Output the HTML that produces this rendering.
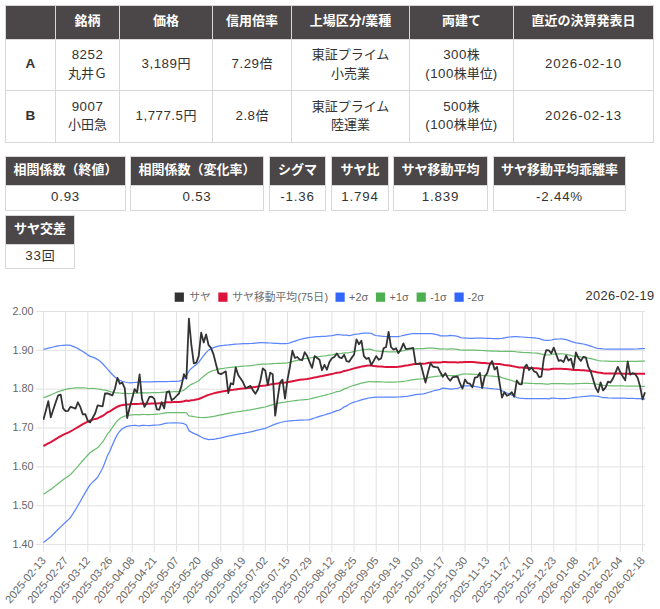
<!DOCTYPE html><html lang="ja"><head><meta charset="utf-8"><title>pair</title><style>
html,body{margin:0;padding:0;background:#fff;}
body{width:660px;height:609px;position:relative;overflow:hidden;font-family:"Liberation Sans","Noto Sans CJK JP",sans-serif;font-size:13px;color:#333;}
span.j{font-size:13px;letter-spacing:0}
table.t{position:absolute;left:5px;top:5px;border-collapse:collapse;table-layout:fixed;width:649px;}
table.t th,table.t td{border:1px solid #d8d8d8;padding:0 0 1px 0;text-align:center;vertical-align:middle;font-size:13.3px;line-height:18.5px;letter-spacing:.5px}
table.t th{background:#4b4748;color:#fff;height:31px;font-weight:bold;padding:0 0 2px 0;letter-spacing:0}
table.t td{color:#333}
table.t td.d{letter-spacing:.9px}
table.t td.k{font-weight:bold;font-size:13.5px}
.box{position:absolute;box-sizing:border-box;border:1px solid #d8d8d8;text-align:center;background:#fff}
.box .h{background:#4b4748;color:#fff;height:28px;line-height:26px;border-bottom:1px solid #d8d8d8;font-weight:bold;font-size:13px}
.box .v{height:24px;line-height:22px;font-size:13.3px;letter-spacing:.8px;color:#333}
#chart{position:absolute;left:0;top:280px}
#chart text{font-family:"Liberation Sans","Noto Sans CJK JP",sans-serif}
</style></head><body>
<table class="t"><colgroup><col style="width:50px"><col style="width:64px"><col style="width:93px"><col style="width:79px"><col style="width:118px"><col style="width:104px"><col style="width:140px"></colgroup>
<tr><th></th><th><span class="j">銘柄</span></th><th><span class="j">価格</span></th><th><span class="j">信用倍率</span></th><th><span class="j">上場区分/業種</span></th><th><span class="j">両建て</span></th><th><span class="j">直近の決算発表日</span></th></tr>
<tr style="height:50px"><td class="k" style="height:49px">A</td><td class="" style="height:49px">8252<br><span class="j">丸井Ｇ</span></td><td class="" style="height:49px">3,189<span class="j">円</span></td><td class="" style="height:49px">7.29<span class="j">倍</span></td><td class="" style="height:49px"><span class="j">東証プライム</span><br><span class="j">小売業</span></td><td class="" style="height:49px">300<span class="j">株</span><br>(100<span class="j">株単位</span>)</td><td class="d" style="height:49px">2026-02-10</td></tr>
<tr style="height:51px"><td class="k" style="height:50px">B</td><td class="" style="height:50px">9007<br><span class="j">小田急</span></td><td class="" style="height:50px">1,777.5<span class="j">円</span></td><td class="" style="height:50px">2.8<span class="j">倍</span></td><td class="" style="height:50px"><span class="j">東証プライム</span><br><span class="j">陸運業</span></td><td class="" style="height:50px">500<span class="j">株</span><br>(100<span class="j">株単位</span>)</td><td class="d" style="height:50px">2026-02-13</td></tr>
</table>
<div class="box" style="left:5px;top:156px;width:121px"><div class="h">相関係数（終値）</div><div class="v" style="height:24px">0.93</div></div>
<div class="box" style="left:130px;top:156px;width:134px"><div class="h">相関係数（変化率）</div><div class="v" style="height:24px">0.53</div></div>
<div class="box" style="left:269px;top:156px;width:57px"><div class="h">シグマ</div><div class="v" style="height:24px">-1.36</div></div>
<div class="box" style="left:331px;top:156px;width:58px"><div class="h">サヤ比</div><div class="v" style="height:24px">1.794</div></div>
<div class="box" style="left:393px;top:156px;width:95px"><div class="h">サヤ移動平均</div><div class="v" style="height:24px">1.839</div></div>
<div class="box" style="left:493px;top:156px;width:133px"><div class="h">サヤ移動平均乖離率</div><div class="v" style="height:24px">-2.44%</div></div>
<div class="box" style="left:5px;top:215px;width:70px"><div class="h">サヤ交差</div><div class="v" style="height:23px">33<span class="j">回</span></div></div>
<svg id="chart" width="660" height="329" viewBox="0 0 660 329">
<path d="M43.4 31.5V272 M65.6 31.5V272 M87.8 31.5V272 M110.0 31.5V272 M132.2 31.5V272 M154.3 31.5V272 M176.5 31.5V272 M198.7 31.5V272 M220.9 31.5V272 M243.1 31.5V272 M265.3 31.5V272 M287.5 31.5V272 M309.7 31.5V272 M331.9 31.5V272 M354.1 31.5V272 M376.2 31.5V272 M398.4 31.5V272 M420.6 31.5V272 M442.8 31.5V272 M465.0 31.5V272 M487.2 31.5V272 M509.4 31.5V272 M531.6 31.5V272 M553.8 31.5V272 M576.0 31.5V272 M598.1 31.5V272 M620.3 31.5V272 M642.5 31.5V272 M36 31.50H645 M36 70.35H645 M36 109.20H645 M36 148.05H645 M36 186.90H645 M36 225.75H645 M36 264.60H645" stroke="#e2e2e2" stroke-width="1" fill="none"/>
<g fill="none" stroke-linejoin="round" stroke-linecap="butt" clip-path="url(#cp)">
<path d="M43.4 262.6 L45.9 260.6 L48.3 258.7 L50.8 256.7 L53.3 254.2 L55.7 251.8 L58.2 249.3 L60.7 246.9 L63.1 244.6 L65.6 242.2 L68.1 239.9 L70.5 237.5 L73.0 233.7 L75.5 229.7 L77.9 225.5 L80.4 221.2 L82.8 216.9 L85.3 212.6 L87.8 208.4 L90.2 204.6 L92.7 202.1 L95.2 199.7 L97.6 197.2 L100.1 192.8 L102.6 188.3 L105.0 182.2 L107.5 175.5 L110.0 170.8 L112.4 165.0 L114.9 159.4 L117.4 154.5 L119.8 151.2 L122.3 148.8 L124.8 147.4 L127.2 146.3 L129.7 145.9 L132.2 145.5 L134.6 145.3 L137.1 145.6 L139.6 145.8 L142.0 145.3 L144.5 145.4 L146.9 145.5 L149.4 145.6 L151.9 145.4 L154.3 145.2 L156.8 145.0 L159.3 144.8 L161.7 144.3 L164.2 143.7 L166.7 143.1 L169.1 143.0 L171.6 142.9 L174.1 142.9 L176.5 142.8 L179.0 143.0 L181.5 143.2 L183.9 143.7 L186.4 145.0 L188.9 150.6 L191.3 152.1 L193.8 153.4 L196.3 154.4 L198.7 155.6 L201.2 157.0 L203.7 158.3 L206.1 158.9 L208.6 159.6 L211.0 159.4 L213.5 159.3 L216.0 158.9 L218.4 158.4 L220.9 157.9 L223.4 157.3 L225.8 156.7 L228.3 156.1 L230.8 155.6 L233.2 155.1 L235.7 154.6 L238.2 154.2 L240.6 153.7 L243.1 153.3 L245.6 152.8 L248.0 152.4 L250.5 151.9 L253.0 151.3 L255.4 150.7 L257.9 150.1 L260.4 149.5 L262.8 148.9 L265.3 148.4 L267.8 147.3 L270.2 146.2 L272.7 145.1 L275.2 144.2 L277.6 143.3 L280.1 142.5 L282.5 142.0 L285.0 141.5 L287.5 141.1 L289.9 140.9 L292.4 140.7 L294.9 140.5 L297.3 140.3 L299.8 140.2 L302.3 140.1 L304.7 140.0 L307.2 139.9 L309.7 139.6 L312.1 138.8 L314.6 138.0 L317.1 137.2 L319.5 136.4 L322.0 135.7 L324.5 135.0 L326.9 134.2 L329.4 133.4 L331.9 132.6 L334.3 131.6 L336.8 130.6 L339.3 130.1 L341.7 128.8 L344.2 126.8 L346.6 125.9 L349.1 124.2 L351.6 123.0 L354.0 122.2 L356.5 121.5 L359.0 120.7 L361.4 119.9 L363.9 119.2 L366.4 118.6 L368.8 118.0 L371.3 117.7 L373.8 117.4 L376.2 117.1 L378.7 117.1 L381.2 117.2 L383.6 117.2 L386.1 117.2 L388.6 117.2 L391.0 117.2 L393.5 117.1 L396.0 117.1 L398.4 117.0 L400.9 116.8 L403.4 116.6 L405.8 116.4 L408.3 116.1 L410.7 115.6 L413.2 115.1 L415.7 114.6 L418.1 114.4 L420.6 114.2 L423.1 114.0 L425.5 113.3 L428.0 112.5 L430.5 111.8 L432.9 111.0 L435.4 110.4 L437.9 109.9 L440.3 109.3 L442.8 108.1 L445.3 108.4 L447.7 108.7 L450.2 109.1 L452.7 108.9 L455.1 108.7 L457.6 108.4 L460.1 107.3 L462.5 106.3 L465.0 105.9 L467.5 105.9 L469.9 105.9 L472.4 105.9 L474.9 106.3 L477.3 106.8 L479.8 107.3 L482.2 107.7 L484.7 108.0 L487.2 108.2 L489.6 108.5 L492.1 108.7 L494.6 109.0 L497.0 109.2 L499.5 109.5 L502.0 110.7 L504.4 111.9 L506.9 113.0 L509.4 114.0 L511.8 115.1 L514.3 116.3 L516.8 117.5 L519.2 118.1 L521.7 118.3 L524.2 118.5 L526.6 118.5 L529.1 118.6 L531.6 118.6 L534.0 118.7 L536.5 118.6 L539.0 118.5 L541.4 118.5 L543.9 118.6 L546.3 118.7 L548.8 118.9 L551.3 118.1 L553.7 118.2 L556.2 118.4 L558.7 118.5 L561.1 118.5 L563.6 118.5 L566.1 118.5 L568.5 118.3 L571.0 118.0 L573.5 117.6 L575.9 117.3 L578.4 117.0 L580.9 116.8 L583.3 116.5 L585.8 116.3 L588.3 116.1 L590.7 115.9 L593.2 115.9 L595.7 116.1 L598.1 116.4 L600.6 117.0 L603.1 117.6 L605.5 117.7 L608.0 117.9 L610.4 118.0 L612.9 118.2 L615.4 118.2 L617.8 118.2 L620.3 118.2 L622.8 118.2 L625.2 118.2 L627.7 118.3 L630.2 118.3 L632.6 118.4 L635.1 118.5 L637.6 118.5 L640.0 118.7 L642.5 118.9 L645.0 119.1" stroke="#5a85ff" stroke-width="1.25"/>
<path d="M43.4 214.3 L45.9 212.7 L48.3 211.0 L50.8 209.4 L53.3 207.4 L55.7 205.4 L58.2 203.4 L60.7 201.6 L63.1 199.8 L65.6 198.0 L68.1 196.2 L70.5 194.5 L73.0 191.8 L75.5 189.1 L77.9 186.3 L80.4 183.4 L82.8 180.5 L85.3 177.8 L87.8 175.0 L90.2 172.5 L92.7 170.9 L95.2 169.3 L97.6 167.8 L100.1 164.9 L102.6 162.2 L105.0 158.2 L107.5 153.9 L110.0 151.1 L112.4 147.4 L114.9 143.8 L117.4 140.6 L119.8 138.5 L122.3 137.0 L124.8 136.1 L127.2 135.3 L129.7 135.1 L132.2 134.8 L134.6 134.6 L137.1 134.7 L139.6 134.8 L142.0 134.4 L144.5 134.5 L146.9 134.6 L149.4 134.7 L151.9 134.5 L154.3 134.4 L156.8 134.2 L159.3 134.0 L161.7 133.7 L164.2 133.2 L166.7 132.7 L169.1 132.6 L171.6 132.5 L174.1 132.5 L176.5 132.5 L179.0 132.6 L181.5 132.5 L183.9 132.5 L186.4 132.8 L188.9 135.8 L191.3 136.2 L193.8 136.7 L196.3 137.0 L198.7 137.3 L201.2 137.5 L203.7 137.6 L206.1 137.3 L208.6 137.2 L211.0 136.8 L213.5 136.4 L216.0 135.9 L218.4 135.3 L220.9 134.8 L223.4 134.3 L225.8 133.8 L228.3 133.3 L230.8 132.8 L233.2 132.4 L235.7 132.0 L238.2 131.6 L240.6 131.3 L243.1 130.9 L245.6 130.6 L248.0 130.2 L250.5 129.8 L253.0 129.3 L255.4 128.8 L257.9 128.3 L260.4 127.8 L262.8 127.4 L265.3 127.0 L267.8 126.2 L270.2 125.4 L272.7 124.6 L275.2 124.0 L277.6 123.4 L280.1 122.8 L282.5 122.4 L285.0 122.1 L287.5 121.7 L289.9 121.4 L292.4 121.0 L294.9 120.6 L297.3 120.3 L299.8 120.0 L302.3 119.8 L304.7 119.6 L307.2 119.4 L309.7 119.0 L312.1 118.4 L314.6 117.7 L317.1 117.1 L319.5 116.5 L322.0 115.9 L324.5 115.3 L326.9 114.6 L329.4 114.0 L331.9 113.3 L334.3 112.5 L336.8 111.6 L339.3 111.3 L341.7 110.4 L344.2 108.9 L346.6 108.2 L349.1 107.0 L351.6 106.0 L354.0 105.3 L356.5 104.6 L359.0 103.9 L361.4 103.2 L363.9 102.7 L366.4 102.2 L368.8 101.7 L371.3 101.6 L373.8 101.8 L376.2 101.7 L378.7 101.8 L381.2 101.9 L383.6 102.0 L386.1 102.1 L388.6 102.1 L391.0 102.1 L393.5 102.0 L396.0 102.0 L398.4 101.9 L400.9 101.6 L403.4 101.3 L405.8 101.0 L408.3 100.6 L410.7 100.1 L413.2 99.7 L415.7 99.3 L418.1 99.1 L420.6 99.0 L423.1 98.9 L425.5 98.3 L428.0 97.8 L430.5 97.2 L432.9 96.8 L435.4 96.4 L437.9 96.2 L440.3 95.9 L442.8 95.0 L445.3 95.2 L447.7 95.5 L450.2 95.7 L452.7 95.6 L455.1 95.5 L457.6 95.4 L460.1 94.8 L462.5 94.2 L465.0 93.9 L467.5 94.0 L469.9 94.0 L472.4 94.0 L474.9 94.3 L477.3 94.7 L479.8 95.0 L482.2 95.3 L484.7 95.5 L487.2 95.7 L489.6 96.0 L492.1 96.2 L494.6 96.4 L497.0 96.6 L499.5 96.7 L502.0 97.6 L504.4 98.4 L506.9 99.1 L509.4 99.8 L511.8 100.5 L514.3 101.4 L516.8 102.3 L519.2 102.8 L521.7 103.0 L524.2 103.1 L526.6 103.2 L529.1 103.3 L531.6 103.4 L534.0 103.5 L536.5 103.5 L539.0 103.5 L541.4 103.7 L543.9 103.9 L546.3 104.1 L548.8 104.2 L551.3 103.5 L553.7 103.5 L556.2 103.6 L558.7 103.6 L561.1 103.6 L563.6 103.7 L566.1 103.8 L568.5 103.8 L571.0 103.8 L573.5 103.8 L575.9 103.6 L578.4 103.6 L580.9 103.5 L583.3 103.4 L585.8 103.4 L588.3 103.4 L590.7 103.5 L593.2 103.7 L595.7 104.0 L598.1 104.4 L600.6 104.9 L603.1 105.4 L605.5 105.6 L608.0 105.7 L610.4 105.8 L612.9 105.9 L615.4 105.9 L617.8 105.9 L620.3 105.9 L622.8 105.9 L625.2 106.0 L627.7 106.0 L630.2 106.0 L632.6 106.1 L635.1 106.1 L637.6 106.1 L640.0 106.2 L642.5 106.3 L645.0 106.4" stroke="#6cbd70" stroke-width="1.25"/>
<path d="M43.4 117.7 L45.9 116.8 L48.3 115.8 L50.8 114.9 L53.3 113.8 L55.7 112.7 L58.2 111.6 L60.7 110.9 L63.1 110.1 L65.6 109.4 L68.1 108.9 L70.5 108.4 L73.0 108.2 L75.5 107.9 L77.9 107.8 L80.4 107.8 L82.8 107.8 L85.3 108.0 L87.8 108.3 L90.2 108.5 L92.7 108.4 L95.2 108.5 L97.6 109.0 L100.1 109.2 L102.6 109.9 L105.0 110.2 L107.5 110.7 L110.0 111.7 L112.4 112.1 L114.9 112.6 L117.4 112.8 L119.8 113.0 L122.3 113.3 L124.8 113.3 L127.2 113.5 L129.7 113.5 L132.2 113.4 L134.6 113.2 L137.1 113.1 L139.6 112.8 L142.0 112.7 L144.5 112.8 L146.9 112.8 L149.4 112.8 L151.9 112.7 L154.3 112.6 L156.8 112.5 L159.3 112.5 L161.7 112.3 L164.2 112.1 L166.7 111.9 L169.1 111.9 L171.6 111.8 L174.1 111.7 L176.5 111.7 L179.0 111.7 L181.5 111.0 L183.9 110.1 L186.4 108.2 L188.9 106.0 L191.3 104.3 L193.8 103.3 L196.3 102.0 L198.7 100.7 L201.2 98.4 L203.7 96.2 L206.1 94.2 L208.6 92.5 L211.0 91.4 L213.5 90.5 L216.0 89.8 L218.4 89.1 L220.9 88.7 L223.4 88.4 L225.8 88.0 L228.3 87.7 L230.8 87.4 L233.2 87.1 L235.7 86.8 L238.2 86.6 L240.6 86.3 L243.1 86.1 L245.6 86.0 L248.0 85.8 L250.5 85.6 L253.0 85.3 L255.4 85.0 L257.9 84.7 L260.4 84.4 L262.8 84.2 L265.3 84.2 L267.8 84.0 L270.2 83.8 L272.7 83.6 L275.2 83.5 L277.6 83.4 L280.1 83.3 L282.5 83.2 L285.0 83.1 L287.5 82.9 L289.9 82.3 L292.4 81.6 L294.9 80.9 L297.3 80.3 L299.8 79.7 L302.3 79.1 L304.7 78.7 L307.2 78.3 L309.7 78.0 L312.1 77.6 L314.6 77.2 L317.1 76.8 L319.5 76.5 L322.0 76.2 L324.5 76.0 L326.9 75.6 L329.4 75.2 L331.9 74.8 L334.3 74.3 L336.8 73.7 L339.3 73.6 L341.7 73.4 L344.2 72.9 L346.6 72.9 L349.1 72.7 L351.6 72.2 L354.0 71.4 L356.5 70.9 L359.0 70.5 L361.4 70.0 L363.9 69.6 L366.4 69.4 L368.8 69.2 L371.3 69.4 L373.8 70.5 L376.2 70.9 L378.7 71.2 L381.2 71.4 L383.6 71.6 L386.1 71.7 L388.6 71.8 L391.0 71.8 L393.5 71.8 L396.0 71.8 L398.4 71.7 L400.9 71.2 L403.4 70.7 L405.8 70.2 L408.3 69.7 L410.7 69.2 L413.2 68.9 L415.7 68.8 L418.1 68.7 L420.6 68.7 L423.1 68.6 L425.5 68.4 L428.0 68.2 L430.5 68.1 L432.9 68.2 L435.4 68.4 L437.9 68.6 L440.3 69.2 L442.8 68.9 L445.3 69.0 L447.7 69.1 L450.2 68.8 L452.7 68.9 L455.1 69.1 L457.6 69.4 L460.1 69.8 L462.5 70.1 L465.0 70.1 L467.5 70.1 L469.9 70.2 L472.4 70.2 L474.9 70.2 L477.3 70.3 L479.8 70.4 L482.2 70.5 L484.7 70.6 L487.2 70.8 L489.6 70.9 L492.1 71.1 L494.6 71.1 L497.0 71.2 L499.5 71.3 L502.0 71.5 L504.4 71.4 L506.9 71.3 L509.4 71.3 L511.8 71.4 L514.3 71.5 L516.8 71.9 L519.2 72.1 L521.7 72.3 L524.2 72.5 L526.6 72.6 L529.1 72.7 L531.6 72.9 L534.0 73.0 L536.5 73.2 L539.0 73.4 L541.4 74.1 L543.9 74.7 L546.3 74.9 L548.8 75.0 L551.3 74.5 L553.7 74.0 L556.2 74.0 L558.7 73.9 L561.1 73.8 L563.6 74.0 L566.1 74.4 L568.5 74.8 L571.0 75.4 L573.5 76.1 L575.9 76.4 L578.4 76.6 L580.9 76.9 L583.3 77.1 L585.8 77.6 L588.3 78.1 L590.7 78.6 L593.2 79.2 L595.7 79.9 L598.1 80.5 L600.6 80.8 L603.1 81.0 L605.5 81.2 L608.0 81.2 L610.4 81.3 L612.9 81.3 L615.4 81.3 L617.8 81.3 L620.3 81.4 L622.8 81.4 L625.2 81.4 L627.7 81.5 L630.2 81.4 L632.6 81.4 L635.1 81.4 L637.6 81.3 L640.0 81.2 L642.5 81.2 L645.0 81.1" stroke="#6cbd70" stroke-width="1.25"/>
<path d="M43.4 69.4 L45.9 68.8 L48.3 68.2 L50.8 67.6 L53.3 67.0 L55.7 66.4 L58.2 65.8 L60.7 65.5 L63.1 65.3 L65.6 65.1 L68.1 65.2 L70.5 65.4 L73.0 66.3 L75.5 67.3 L77.9 68.6 L80.4 70.0 L82.8 71.5 L85.3 73.1 L87.8 74.9 L90.2 76.4 L92.7 77.1 L95.2 78.1 L97.6 79.6 L100.1 81.3 L102.6 83.7 L105.0 86.2 L107.5 89.1 L110.0 92.0 L112.4 94.5 L114.9 97.0 L117.4 98.8 L119.8 100.3 L122.3 101.4 L124.8 102.0 L127.2 102.5 L129.7 102.8 L132.2 102.6 L134.6 102.5 L137.1 102.2 L139.6 101.8 L142.0 101.8 L144.5 101.9 L146.9 101.9 L149.4 101.9 L151.9 101.8 L154.3 101.7 L156.8 101.7 L159.3 101.7 L161.7 101.6 L164.2 101.6 L166.7 101.6 L169.1 101.5 L171.6 101.4 L174.1 101.4 L176.5 101.3 L179.0 101.2 L181.5 100.3 L183.9 98.9 L186.4 95.9 L188.9 91.2 L191.3 88.4 L193.8 86.6 L196.3 84.5 L198.7 82.4 L201.2 78.9 L203.7 75.5 L206.1 72.6 L208.6 70.1 L211.0 68.7 L213.5 67.6 L216.0 66.8 L218.4 66.1 L220.9 65.6 L223.4 65.4 L225.8 65.1 L228.3 64.9 L230.8 64.6 L233.2 64.4 L235.7 64.2 L238.2 64.0 L240.6 63.8 L243.1 63.7 L245.6 63.7 L248.0 63.6 L250.5 63.5 L253.0 63.3 L255.4 63.1 L257.9 62.9 L260.4 62.7 L262.8 62.6 L265.3 62.8 L267.8 62.9 L270.2 63.0 L272.7 63.1 L275.2 63.3 L277.6 63.4 L280.1 63.6 L282.5 63.6 L285.0 63.6 L287.5 63.5 L289.9 62.8 L292.4 61.9 L294.9 61.1 L297.3 60.3 L299.8 59.5 L302.3 58.8 L304.7 58.3 L307.2 57.8 L309.7 57.4 L312.1 57.2 L314.6 56.9 L317.1 56.7 L319.5 56.6 L322.0 56.4 L324.5 56.3 L326.9 56.1 L329.4 55.8 L331.9 55.6 L334.3 55.2 L336.8 54.7 L339.3 54.7 L341.7 55.0 L344.2 55.0 L346.6 55.2 L349.1 55.6 L351.6 55.2 L354.0 54.5 L356.5 54.1 L359.0 53.8 L361.4 53.4 L363.9 53.1 L366.4 53.0 L368.8 53.0 L371.3 53.3 L373.8 54.9 L376.2 55.5 L378.7 55.8 L381.2 56.1 L383.6 56.3 L386.1 56.5 L388.6 56.7 L391.0 56.7 L393.5 56.7 L396.0 56.7 L398.4 56.6 L400.9 56.0 L403.4 55.3 L405.8 54.8 L408.3 54.3 L410.7 53.8 L413.2 53.5 L415.7 53.5 L418.1 53.5 L420.6 53.5 L423.1 53.5 L425.5 53.5 L428.0 53.5 L430.5 53.5 L432.9 53.9 L435.4 54.4 L437.9 54.9 L440.3 55.8 L442.8 55.8 L445.3 55.8 L447.7 55.8 L450.2 55.3 L452.7 55.6 L455.1 55.9 L457.6 56.4 L460.1 57.4 L462.5 58.0 L465.0 58.1 L467.5 58.2 L469.9 58.3 L472.4 58.3 L474.9 58.2 L477.3 58.1 L479.8 58.1 L482.2 58.0 L484.7 58.2 L487.2 58.3 L489.6 58.4 L492.1 58.5 L494.6 58.5 L497.0 58.5 L499.5 58.5 L502.0 58.4 L504.4 57.9 L506.9 57.4 L509.4 57.0 L511.8 56.8 L514.3 56.6 L516.8 56.7 L519.2 56.8 L521.7 57.0 L524.2 57.2 L526.6 57.3 L529.1 57.5 L531.6 57.6 L534.0 57.8 L536.5 58.1 L539.0 58.3 L541.4 59.3 L543.9 60.1 L546.3 60.3 L548.8 60.3 L551.3 60.0 L553.7 59.3 L556.2 59.1 L558.7 59.0 L561.1 58.9 L563.6 59.2 L566.1 59.6 L568.5 60.3 L571.0 61.3 L573.5 62.2 L575.9 62.8 L578.4 63.2 L580.9 63.6 L583.3 64.0 L585.8 64.7 L588.3 65.4 L590.7 66.2 L593.2 67.0 L595.7 67.8 L598.1 68.5 L600.6 68.7 L603.1 68.9 L605.5 69.0 L608.0 69.0 L610.4 69.0 L612.9 69.0 L615.4 69.0 L617.8 69.1 L620.3 69.1 L622.8 69.1 L625.2 69.2 L627.7 69.2 L630.2 69.1 L632.6 69.1 L635.1 69.0 L637.6 68.9 L640.0 68.7 L642.5 68.6 L645.0 68.5" stroke="#5a85ff" stroke-width="1.25"/>
<path d="M43.4 166.0 L45.9 164.7 L48.3 163.4 L50.8 162.1 L53.3 160.6 L55.7 159.1 L58.2 157.5 L60.7 156.2 L63.1 154.9 L65.6 153.7 L68.1 152.6 L70.5 151.4 L73.0 150.0 L75.5 148.5 L77.9 147.1 L80.4 145.6 L82.8 144.2 L85.3 142.9 L87.8 141.7 L90.2 140.5 L92.7 139.6 L95.2 138.9 L97.6 138.4 L100.1 137.0 L102.6 136.0 L105.0 134.2 L107.5 132.3 L110.0 131.4 L112.4 129.7 L114.9 128.2 L117.4 126.7 L119.8 125.8 L122.3 125.1 L124.8 124.7 L127.2 124.4 L129.7 124.3 L132.2 124.1 L134.6 123.9 L137.1 123.9 L139.6 123.8 L142.0 123.6 L144.5 123.7 L146.9 123.7 L149.4 123.8 L151.9 123.6 L154.3 123.5 L156.8 123.4 L159.3 123.2 L161.7 123.0 L164.2 122.7 L166.7 122.3 L169.1 122.2 L171.6 122.2 L174.1 122.1 L176.5 122.1 L179.0 122.1 L181.5 121.7 L183.9 121.3 L186.4 120.5 L188.9 120.9 L191.3 120.3 L193.8 120.0 L196.3 119.5 L198.7 119.0 L201.2 118.0 L203.7 116.9 L206.1 115.8 L208.6 114.9 L211.0 114.1 L213.5 113.4 L216.0 112.8 L218.4 112.2 L220.9 111.8 L223.4 111.3 L225.8 110.9 L228.3 110.5 L230.8 110.1 L233.2 109.8 L235.7 109.4 L238.2 109.1 L240.6 108.8 L243.1 108.5 L245.6 108.3 L248.0 108.0 L250.5 107.7 L253.0 107.3 L255.4 106.9 L257.9 106.5 L260.4 106.1 L262.8 105.8 L265.3 105.6 L267.8 105.1 L270.2 104.6 L272.7 104.1 L275.2 103.7 L277.6 103.4 L280.1 103.1 L282.5 102.8 L285.0 102.6 L287.5 102.3 L289.9 101.8 L292.4 101.3 L294.9 100.8 L297.3 100.3 L299.8 99.8 L302.3 99.4 L304.7 99.2 L307.2 98.9 L309.7 98.5 L312.1 98.0 L314.6 97.4 L317.1 97.0 L319.5 96.5 L322.0 96.1 L324.5 95.6 L326.9 95.1 L329.4 94.6 L331.9 94.1 L334.3 93.4 L336.8 92.7 L339.3 92.4 L341.7 91.9 L344.2 90.9 L346.6 90.5 L349.1 89.9 L351.6 89.1 L354.0 88.4 L356.5 87.8 L359.0 87.2 L361.4 86.6 L363.9 86.2 L366.4 85.8 L368.8 85.5 L371.3 85.5 L373.8 86.1 L376.2 86.3 L378.7 86.5 L381.2 86.6 L383.6 86.8 L386.1 86.9 L388.6 87.0 L391.0 87.0 L393.5 86.9 L396.0 86.9 L398.4 86.8 L400.9 86.4 L403.4 86.0 L405.8 85.6 L408.3 85.2 L410.7 84.7 L413.2 84.3 L415.7 84.0 L418.1 83.9 L420.6 83.8 L423.1 83.7 L425.5 83.4 L428.0 83.0 L430.5 82.6 L432.9 82.5 L435.4 82.4 L437.9 82.4 L440.3 82.6 L442.8 82.0 L445.3 82.1 L447.7 82.3 L450.2 82.2 L452.7 82.3 L455.1 82.3 L457.6 82.4 L460.1 82.3 L462.5 82.2 L465.0 82.0 L467.5 82.0 L469.9 82.1 L472.4 82.1 L474.9 82.3 L477.3 82.5 L479.8 82.7 L482.2 82.9 L484.7 83.1 L487.2 83.3 L489.6 83.4 L492.1 83.6 L494.6 83.8 L497.0 83.9 L499.5 84.0 L502.0 84.5 L504.4 84.9 L506.9 85.2 L509.4 85.5 L511.8 86.0 L514.3 86.4 L516.8 87.1 L519.2 87.5 L521.7 87.6 L524.2 87.8 L526.6 87.9 L529.1 88.0 L531.6 88.1 L534.0 88.3 L536.5 88.3 L539.0 88.4 L541.4 88.9 L543.9 89.3 L546.3 89.5 L548.8 89.6 L551.3 89.0 L553.7 88.7 L556.2 88.8 L558.7 88.8 L561.1 88.7 L563.6 88.9 L566.1 89.1 L568.5 89.3 L571.0 89.6 L573.5 89.9 L575.9 90.0 L578.4 90.1 L580.9 90.2 L583.3 90.2 L585.8 90.5 L588.3 90.8 L590.7 91.1 L593.2 91.4 L595.7 92.0 L598.1 92.5 L600.6 92.8 L603.1 93.2 L605.5 93.4 L608.0 93.5 L610.4 93.5 L612.9 93.6 L615.4 93.6 L617.8 93.6 L620.3 93.6 L622.8 93.7 L625.2 93.7 L627.7 93.7 L630.2 93.7 L632.6 93.7 L635.1 93.7 L637.6 93.7 L640.0 93.7 L642.5 93.7 L645.0 93.8" stroke="#dc143c" stroke-width="2"/>
<path d="M43.4 139.8 L45.9 130.4 L48.3 121.1 L50.8 137.3 L53.3 129.5 L55.7 122.4 L58.2 115.3 L60.7 114.7 L63.1 128.3 L65.6 131.2 L68.1 130.8 L70.5 126.8 L73.0 127.7 L75.5 128.6 L77.9 122.3 L80.4 127.2 L82.8 134.4 L85.3 134.1 L87.8 140.9 L90.2 142.4 L92.7 137.8 L95.2 133.2 L97.6 125.4 L100.1 125.8 L102.6 126.3 L105.0 113.5 L107.5 113.3 L110.0 114.3 L112.4 115.3 L114.9 108.8 L117.4 97.9 L119.8 103.7 L122.3 102.6 L124.8 108.4 L127.2 138.0 L129.7 127.2 L132.2 118.2 L134.6 109.1 L137.1 112.4 L139.6 94.3 L142.0 119.1 L144.5 126.9 L146.9 122.7 L149.4 117.0 L151.9 116.7 L154.3 118.9 L156.8 129.3 L159.3 129.7 L161.7 122.1 L164.2 128.4 L166.7 112.2 L169.1 111.3 L171.6 120.3 L174.1 118.5 L176.5 116.0 L179.0 113.5 L181.5 105.9 L183.9 94.1 L186.4 98.6 L188.9 38.7 L191.3 64.3 L193.8 83.3 L196.3 82.7 L198.7 76.1 L201.2 52.6 L203.7 62.5 L206.1 54.4 L208.6 65.2 L211.0 67.9 L213.5 74.3 L216.0 84.2 L218.4 93.2 L220.9 94.1 L223.4 92.8 L225.8 91.4 L228.3 113.1 L230.8 103.2 L233.2 104.4 L235.7 87.4 L238.2 95.0 L240.6 98.5 L243.1 102.3 L245.6 108.2 L248.0 107.0 L250.5 105.9 L253.0 110.4 L255.4 113.7 L257.9 109.5 L260.4 100.5 L262.8 88.4 L265.3 90.6 L267.8 105.0 L270.2 92.7 L272.7 94.2 L275.2 135.7 L277.6 118.6 L280.1 102.3 L282.5 99.6 L285.0 118.6 L287.5 99.6 L289.9 87.0 L292.4 70.7 L294.9 77.9 L297.3 77.0 L299.8 79.7 L302.3 80.1 L304.7 72.2 L307.2 76.1 L309.7 82.4 L312.1 87.9 L314.6 76.1 L317.1 77.9 L319.5 79.7 L322.0 90.2 L324.5 84.8 L326.9 89.7 L329.4 81.9 L331.9 78.3 L334.3 77.0 L336.8 73.4 L339.3 77.3 L341.7 78.1 L344.2 74.7 L346.6 81.2 L349.1 81.8 L351.6 77.9 L354.0 74.8 L356.5 59.3 L359.0 64.3 L361.4 60.7 L363.9 76.1 L366.4 78.8 L368.8 77.9 L371.3 85.1 L373.8 80.6 L376.2 76.1 L378.7 79.7 L381.2 78.4 L383.6 68.3 L386.1 67.0 L388.6 52.0 L391.0 67.0 L393.5 69.7 L396.0 68.3 L398.4 73.0 L400.9 69.4 L403.4 63.4 L405.8 68.8 L408.3 68.6 L410.7 68.3 L413.2 67.9 L415.7 83.8 L418.1 83.6 L420.6 83.3 L423.1 93.2 L425.5 102.6 L428.0 92.3 L430.5 83.3 L432.9 86.5 L435.4 87.1 L437.9 87.4 L440.3 92.3 L442.8 96.8 L445.3 93.2 L447.7 97.7 L450.2 100.8 L452.7 97.2 L455.1 96.8 L457.6 96.5 L460.1 103.7 L462.5 108.6 L465.0 99.5 L467.5 103.2 L469.9 103.7 L472.4 107.3 L474.9 97.7 L477.3 97.2 L479.8 92.9 L482.2 108.0 L484.7 96.5 L487.2 93.2 L489.6 85.1 L492.1 81.1 L494.6 89.6 L497.0 86.9 L499.5 102.3 L502.0 117.6 L504.4 112.2 L506.9 115.8 L509.4 114.5 L511.8 112.2 L514.3 116.7 L516.8 100.4 L519.2 104.1 L521.7 104.4 L524.2 87.8 L526.6 84.6 L529.1 90.0 L531.6 87.4 L534.0 91.4 L536.5 92.3 L539.0 97.0 L541.4 96.7 L543.9 77.9 L546.3 70.1 L548.8 70.3 L551.3 73.4 L553.7 67.6 L556.2 74.3 L558.7 80.9 L561.1 80.2 L563.6 82.0 L566.1 75.5 L568.5 80.6 L571.0 78.8 L573.5 88.7 L575.9 72.4 L578.4 77.9 L580.9 80.9 L583.3 77.0 L585.8 77.3 L588.3 86.9 L590.7 91.4 L593.2 99.5 L595.7 107.7 L598.1 112.2 L600.6 102.3 L603.1 110.4 L605.5 107.7 L608.0 101.7 L610.4 102.6 L612.9 98.6 L615.4 92.9 L617.8 86.9 L620.3 92.3 L622.8 96.5 L625.2 100.4 L627.7 81.5 L630.2 94.7 L632.6 93.2 L635.1 94.1 L637.6 97.7 L640.0 105.9 L642.5 119.4 L645.0 112.2" stroke="#333" stroke-width="1.8"/>
</g>
<defs><clipPath id="cp"><rect x="43" y="31" width="603" height="234"/></clipPath></defs>
<text x="33.5" y="34.6" text-anchor="end" font-size="10.8" fill="#666">2.00</text>
<text x="33.5" y="73.5" text-anchor="end" font-size="10.8" fill="#666">1.90</text>
<text x="33.5" y="112.3" text-anchor="end" font-size="10.8" fill="#666">1.80</text>
<text x="33.5" y="151.2" text-anchor="end" font-size="10.8" fill="#666">1.70</text>
<text x="33.5" y="190.0" text-anchor="end" font-size="10.8" fill="#666">1.60</text>
<text x="33.5" y="228.8" text-anchor="end" font-size="10.8" fill="#666">1.50</text>
<text x="33.5" y="267.7" text-anchor="end" font-size="10.8" fill="#666">1.40</text>
<text transform="translate(46.4,280.79999999999995) rotate(-50)" text-anchor="end" font-size="11" fill="#666">2025-02-13</text>
<text transform="translate(68.6,280.79999999999995) rotate(-50)" text-anchor="end" font-size="11" fill="#666">2025-02-27</text>
<text transform="translate(90.8,280.79999999999995) rotate(-50)" text-anchor="end" font-size="11" fill="#666">2025-03-12</text>
<text transform="translate(113.0,280.79999999999995) rotate(-50)" text-anchor="end" font-size="11" fill="#666">2025-03-26</text>
<text transform="translate(135.2,280.79999999999995) rotate(-50)" text-anchor="end" font-size="11" fill="#666">2025-04-08</text>
<text transform="translate(157.3,280.79999999999995) rotate(-50)" text-anchor="end" font-size="11" fill="#666">2025-04-21</text>
<text transform="translate(179.5,280.79999999999995) rotate(-50)" text-anchor="end" font-size="11" fill="#666">2025-05-07</text>
<text transform="translate(201.7,280.79999999999995) rotate(-50)" text-anchor="end" font-size="11" fill="#666">2025-05-20</text>
<text transform="translate(223.9,280.79999999999995) rotate(-50)" text-anchor="end" font-size="11" fill="#666">2025-06-06</text>
<text transform="translate(246.1,280.79999999999995) rotate(-50)" text-anchor="end" font-size="11" fill="#666">2025-06-19</text>
<text transform="translate(268.3,280.79999999999995) rotate(-50)" text-anchor="end" font-size="11" fill="#666">2025-07-02</text>
<text transform="translate(290.5,280.79999999999995) rotate(-50)" text-anchor="end" font-size="11" fill="#666">2025-07-15</text>
<text transform="translate(312.7,280.79999999999995) rotate(-50)" text-anchor="end" font-size="11" fill="#666">2025-07-29</text>
<text transform="translate(334.9,280.79999999999995) rotate(-50)" text-anchor="end" font-size="11" fill="#666">2025-08-12</text>
<text transform="translate(357.1,280.79999999999995) rotate(-50)" text-anchor="end" font-size="11" fill="#666">2025-08-25</text>
<text transform="translate(379.2,280.79999999999995) rotate(-50)" text-anchor="end" font-size="11" fill="#666">2025-09-05</text>
<text transform="translate(401.4,280.79999999999995) rotate(-50)" text-anchor="end" font-size="11" fill="#666">2025-09-19</text>
<text transform="translate(423.6,280.79999999999995) rotate(-50)" text-anchor="end" font-size="11" fill="#666">2025-10-03</text>
<text transform="translate(445.8,280.79999999999995) rotate(-50)" text-anchor="end" font-size="11" fill="#666">2025-10-17</text>
<text transform="translate(468.0,280.79999999999995) rotate(-50)" text-anchor="end" font-size="11" fill="#666">2025-10-30</text>
<text transform="translate(490.2,280.79999999999995) rotate(-50)" text-anchor="end" font-size="11" fill="#666">2025-11-13</text>
<text transform="translate(512.4,280.79999999999995) rotate(-50)" text-anchor="end" font-size="11" fill="#666">2025-11-27</text>
<text transform="translate(534.6,280.79999999999995) rotate(-50)" text-anchor="end" font-size="11" fill="#666">2025-12-10</text>
<text transform="translate(556.8,280.79999999999995) rotate(-50)" text-anchor="end" font-size="11" fill="#666">2025-12-23</text>
<text transform="translate(579.0,280.79999999999995) rotate(-50)" text-anchor="end" font-size="11" fill="#666">2026-01-08</text>
<text transform="translate(601.1,280.79999999999995) rotate(-50)" text-anchor="end" font-size="11" fill="#666">2026-01-22</text>
<text transform="translate(623.3,280.79999999999995) rotate(-50)" text-anchor="end" font-size="11" fill="#666">2026-02-04</text>
<text transform="translate(645.5,280.79999999999995) rotate(-50)" text-anchor="end" font-size="11" fill="#666">2026-02-18</text>
<rect x="174.7" y="12.5" width="9.2" height="9.3" fill="#333"/>
<text x="189.2" y="20.6" font-size="10.8" fill="#6e6e6e">サヤ</text>
<rect x="218.3" y="12.5" width="9.2" height="9.3" fill="#dc143c"/>
<text x="232.3" y="20.6" font-size="10.8" fill="#6e6e6e">サヤ移動平均</text>
<text x="297.40000000000003" y="20.69999999999999" font-size="10.8" fill="#666">(75</text>
<text x="313.306" y="20.6" font-size="10.8" fill="#6e6e6e">日</text>
<text x="324.40600000000006" y="20.69999999999999" font-size="10.8" fill="#666">)</text>
<rect x="335.5" y="12.5" width="9.2" height="9.3" fill="#3366ff"/>
<text x="349.1" y="20.69999999999999" font-size="10.8" fill="#666">+2σ</text>
<rect x="375.9" y="12.5" width="9.2" height="9.3" fill="#4caf50"/>
<text x="389.6" y="20.69999999999999" font-size="10.8" fill="#666">+1σ</text>
<rect x="416.6" y="12.5" width="9.2" height="9.3" fill="#4caf50"/>
<text x="430.3" y="20.69999999999999" font-size="10.8" fill="#666">-1σ</text>
<rect x="454.5" y="12.5" width="9.2" height="9.3" fill="#3366ff"/>
<text x="467.6" y="20.69999999999999" font-size="10.8" fill="#666">-2σ</text>
<text x="585.6" y="20.19999999999999" font-size="12.8" letter-spacing="0.33" fill="#333">2026-02-19</text>
</svg></body></html>
